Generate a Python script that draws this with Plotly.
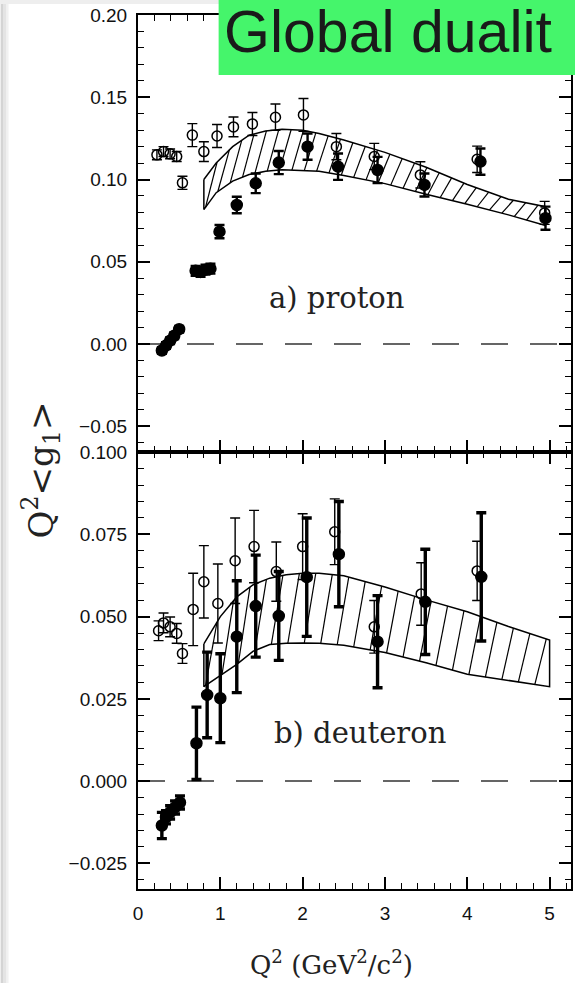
import numpy as np
import plotly.graph_objects as go

# ---- proton: open circles (first data set) ----
x_p_open = [0.23, 0.31, 0.39, 0.47, 0.54, 0.66, 0.80, 0.96, 1.16, 1.39, 1.67, 2.01, 2.41, 2.87, 3.43, 4.12, 4.94]
y_p_open = [0.115, 0.117, 0.1156, 0.114, 0.098, 0.127, 0.117, 0.1265, 0.132, 0.1338, 0.1379, 0.1393, 0.120, 0.114, 0.1028, 0.1123, 0.0797]
e_p_open = [0.003, 0.003, 0.003, 0.003, 0.004, 0.007, 0.006, 0.007, 0.006, 0.007, 0.008, 0.010, 0.008, 0.008, 0.008, 0.008, 0.007]

# ---- proton: filled circles ----
x_p_full = [0.29, 0.34, 0.39, 0.44, 0.50, 0.70, 0.76, 0.82, 0.88, 0.99, 1.20, 1.43, 1.71, 2.06, 2.43, 2.91, 3.48, 4.16, 4.95]
y_p_full = [-0.004, -0.001, 0.002, 0.005, 0.009, 0.0445, 0.0438, 0.0452, 0.0458, 0.0683, 0.0845, 0.0977, 0.1103, 0.120, 0.1078, 0.1058, 0.0967, 0.1109, 0.0765]
e_p_full = [0.002, 0.002, 0.002, 0.002, 0.002, 0.003, 0.003, 0.003, 0.003, 0.004, 0.005, 0.006, 0.007, 0.008, 0.008, 0.008, 0.007, 0.008, 0.007]

# ---- proton: model band ----
x_p_band = [0.80, 0.95, 1.15, 1.35, 1.55, 1.75, 2.00, 2.20, 2.50, 3.00, 3.50, 4.00, 4.50, 4.95]
p_band_hi = [0.100, 0.110, 0.120, 0.127, 0.1295, 0.1305, 0.130, 0.128, 0.124, 0.1165, 0.1075, 0.097, 0.088, 0.0835]
p_band_lo = [0.0817, 0.092, 0.099, 0.103, 0.105, 0.106, 0.1055, 0.105, 0.1025, 0.0975, 0.091, 0.085, 0.0785, 0.072]

# ---- deuteron: open circles ----
x_d_open = [0.25, 0.31, 0.39, 0.47, 0.54, 0.67, 0.80, 0.97, 1.18, 1.41, 1.68, 2.00, 2.39, 2.87, 3.44, 4.12]
y_d_open = [0.0457, 0.0481, 0.0469, 0.0449, 0.0388, 0.0522, 0.0606, 0.054, 0.067, 0.0713, 0.0637, 0.0713, 0.0758, 0.0469, 0.0569, 0.0639]
e_d_open = [0.003, 0.003, 0.003, 0.003, 0.003, 0.011, 0.011, 0.012, 0.013, 0.011, 0.009, 0.010, 0.010, 0.008, 0.0095, 0.009]

# ---- deuteron: filled circles ----
x_d_full = [0.29, 0.34, 0.39, 0.45, 0.51, 0.71, 0.84, 1.00, 1.20, 1.43, 1.71, 2.05, 2.44, 2.91, 3.49, 4.17]
y_d_full = [-0.0135, -0.011, -0.0095, -0.008, -0.0065, 0.0115, 0.0262, 0.0252, 0.0439, 0.0532, 0.0502, 0.062, 0.069, 0.0424, 0.0545, 0.0621]
e_d_full = [0.004, 0.002, 0.002, 0.002, 0.002, 0.011, 0.013, 0.0135, 0.017, 0.0155, 0.0135, 0.018, 0.016, 0.014, 0.016, 0.0195]

# ---- deuteron: model band ----
x_d_band = [0.80, 1.00, 1.20, 1.40, 1.60, 1.80, 2.00, 2.20, 2.50, 3.00, 3.50, 4.00, 4.50, 5.00]
d_band_hi = [0.0417, 0.050, 0.056, 0.0597, 0.0617, 0.0627, 0.0632, 0.0632, 0.0624, 0.059, 0.0551, 0.0515, 0.047, 0.0429]
d_band_lo = [0.0287, 0.032, 0.0355, 0.0395, 0.0415, 0.0419, 0.042, 0.0419, 0.0413, 0.0391, 0.036, 0.0325, 0.0305, 0.0287]

# tick labels
x_ticks = [0, 1, 2, 3, 4, 5]
panel_labels = ["a) proton", "b) deuteron"]
header_text = "Global dualit"

W, H = 575, 983
ML, MR, MT, MB = 138, 2, 15, 94
PW, PH = W - ML - MR, H - MT - MB
XR = [0, 5.26]


def px_x(px):
    return (px - ML) / PW


def px_y(py):
    return (H - MB - py) / PH


fig = go.Figure()


def band_traces(xb, hi, lo, xa, ya, step, dx):
    xb = np.asarray(xb, float)
    hi = np.asarray(hi, float)
    lo = np.asarray(lo, float)
    # outline
    ox = list(xb) + list(xb[::-1]) + [xb[0]]
    oy = list(hi) + list(lo[::-1]) + [hi[0]]
    fig.add_trace(go.Scatter(x=ox, y=oy, mode="lines", xaxis=xa, yaxis=ya,
                             line=dict(color="black", width=1.5),
                             hoverinfo="skip", showlegend=False))
    # diagonal hatching between the two curves
    hx, hy = [], []
    for s in np.arange(xb[0] + 0.02, xb[-1] - dx + 1e-9, step):
        hx += [s, s + dx, None]
        hy += [np.interp(s, xb, lo), np.interp(s + dx, xb, hi), None]
    fig.add_trace(go.Scatter(x=hx, y=hy, mode="lines", xaxis=xa, yaxis=ya,
                             line=dict(color="black", width=1.2),
                             hoverinfo="skip", showlegend=False))


def zero_line(xa, ya):
    fig.add_trace(go.Scatter(x=XR, y=[0, 0], mode="lines", xaxis=xa, yaxis=ya,
                             line=dict(color="#333", width=1.5, dash="27px,22px"),
                             hoverinfo="skip", showlegend=False))


def points(x, y, e, xa, ya, filled, thick):
    fig.add_trace(go.Scatter(
        x=x, y=y, mode="markers", xaxis=xa, yaxis=ya,
        marker=dict(symbol="circle" if filled else "circle-open",
                    size=11 if filled else 10, color="black",
                    line=dict(color="black", width=1.5)),
        error_y=dict(type="data", array=e, color="black",
                     thickness=thick, width=5),
        showlegend=False))


# proton panel
zero_line("x", "y")
band_traces(x_p_band, p_band_hi, p_band_lo, "x", "y", 0.15, 0.14)
points(x_p_open, y_p_open, e_p_open, "x", "y", False, 1.4)
points(x_p_full, y_p_full, e_p_full, "x", "y", True, 2.4)

# deuteron panel
zero_line("x2", "y2")
band_traces(x_d_band, d_band_hi, d_band_lo, "x2", "y2", 0.2, 0.14)
points(x_d_open, y_d_open, e_d_open, "x2", "y2", False, 1.4)
points(x_d_full, y_d_full, e_d_full, "x2", "y2", True, 3.4)

tick_font = dict(family="Liberation Sans, Arial, sans-serif", size=19, color="#111")
minor_x = dict(dtick=0.2, ticks="inside", ticklen=6, tickwidth=1.3, tickcolor="black")
common_x = dict(range=XR, showline=True, linewidth=2, linecolor="black", mirror="allticks",
                ticks="inside", ticklen=12, tickwidth=1.5, tickcolor="black",
                tickvals=x_ticks, showgrid=False, zeroline=False,
                minor=minor_x, tickfont=tick_font)
common_y = dict(showline=True, linewidth=2, linecolor="black", mirror="allticks",
                ticks="inside", ticklen=12, tickwidth=1.5, tickcolor="black",
                showgrid=False, zeroline=False, tickfont=tick_font, ticklabelstandoff=5)

fig.update_layout(
    width=W, height=H,
    margin=dict(l=ML, r=MR, t=MT, b=MB),
    paper_bgcolor="white", plot_bgcolor="white",
    showlegend=False,
    xaxis=dict(common_x, anchor="y", showticklabels=False),
    xaxis2=dict(common_x, anchor="y2", showticklabels=True, ticklabelstandoff=6),
    yaxis=dict(common_y, domain=[0.5, 1], anchor="x", range=[-0.0657, 0.20005],
               dtick=0.05, tick0=0, tickformat=".2f",
               minor=dict(dtick=0.01, ticks="inside", ticklen=6, tickwidth=1.3, tickcolor="black")),
    yaxis2=dict(common_y, domain=[0, 0.5], anchor="x2", range=[-0.0328, 0.10005],
                dtick=0.025, tick0=0, tickformat=".3f",
                minor=dict(dtick=0.005, ticks="inside", ticklen=6, tickwidth=1.3, tickcolor="black")),
)

serif = "DejaVu Serif, serif"
fig.add_annotation(x=1.57, y=0.028, xref="x", yref="y", text=panel_labels[0],
                   showarrow=False, xanchor="left", yanchor="middle",
                   font=dict(family=serif, size=29, color="#222"))
fig.add_annotation(x=1.63, y=0.0146, xref="x2", yref="y2", text=panel_labels[1],
                   showarrow=False, xanchor="left", yanchor="middle",
                   font=dict(family=serif, size=29, color="#222"))

# axis titles
fig.add_annotation(x=px_x(40), y=px_y(470), xref="paper", yref="paper",
                   text="Q<sup>2</sup>&lt;g<sub>1</sub>&gt;", textangle=-90,
                   showarrow=False, xanchor="center", yanchor="middle",
                   font=dict(family=serif, size=34, color="#222"))
fig.add_annotation(x=px_x(332), y=px_y(963), xref="paper", yref="paper",
                   text="Q<sup>2</sup> (GeV<sup>2</sup>/c<sup>2</sup>)",
                   showarrow=False, xanchor="center", yanchor="middle",
                   font=dict(family=serif, size=26, color="#222"))

# page edge shading
for x0, x1, c in [(0, 3, "#d4d4d4"), (3, 6, "#e4e4e4"), (6, 8, "#f1f1f1")]:
    fig.add_shape(type="rect", xref="paper", yref="paper",
                  x0=px_x(x0), x1=px_x(x1), y0=px_y(H + 5), y1=px_y(-5),
                  line=dict(width=0), fillcolor=c, layer="above")
fig.add_shape(type="rect", xref="paper", yref="paper",
              x0=px_x(0), x1=px_x(W + 5), y0=px_y(4), y1=px_y(-5),
              line=dict(width=0), fillcolor="#eeeeee", layer="above")

# header banner
fig.add_shape(type="rect", xref="paper", yref="paper",
              x0=px_x(219), x1=px_x(W + 10), y0=px_y(75), y1=px_y(-10),
              line=dict(width=0), fillcolor="#45F56B", layer="above")
fig.add_annotation(x=px_x(223), y=px_y(32), xref="paper", yref="paper",
                   text=header_text, showarrow=False, xanchor="left", yanchor="middle",
                   borderpad=0,
                   font=dict(family="Liberation Sans, Arial, sans-serif", size=59, color="#1a1a1a"))

fig.write_html("out.html")
